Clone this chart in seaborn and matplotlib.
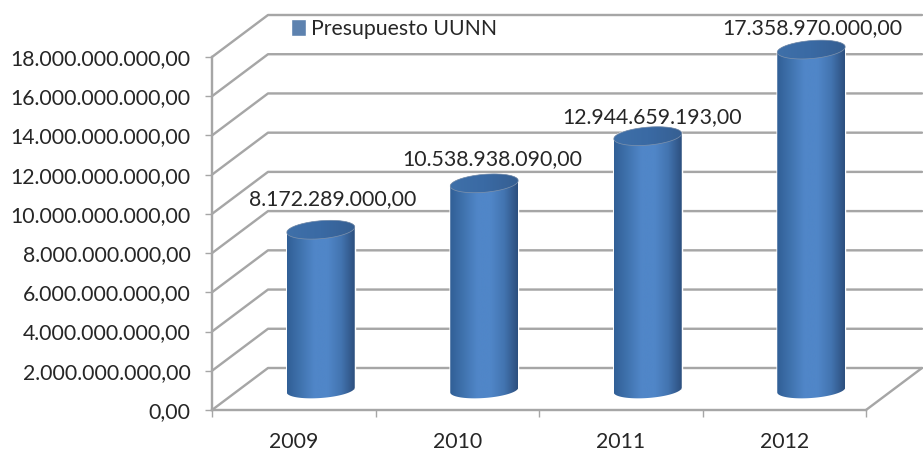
import numpy as np
import pandas as pd
import seaborn as sns
import matplotlib.pyplot as plt
from matplotlib.colors import LinearSegmentedColormap
from matplotlib.lines import Line2D
from matplotlib.patches import Polygon
from matplotlib.ticker import FuncFormatter
from matplotlib.transforms import Affine2D, IdentityTransform

years = ['2009', '2010', '2011', '2012']
budget = [8172289000, 10538938090, 12944659193, 17358970000]
series_name = 'Presupuesto UUNN'
y_ticks = [0, 2e9, 4e9, 6e9, 8e9, 10e9, 12e9, 14e9, 16e9, 18e9]

GRID = '#a6a6a6'
TEXT = '#262626'
FONT_SIZE = 15.3
DEPTH_X, DEPTH_Y = 56, 42
BAR_X, BAR_Y = 27, 20


def es_number(v, pos=None):
    return f'{v:,.2f}'.replace(',', '#').replace('.', ',').replace('#', '.')


def pts(px):
    return px * 0.72


def ellipse(cx, cy, a, b, tilt, t):
    x = cx + a * np.cos(t)
    y = cy + b * np.sin(t) + tilt * a * np.cos(t)
    return np.column_stack([x, y])


sns.set_style('white')
plt.rcParams['font.family'] = ['Lato', 'DejaVu Sans']

fig = plt.figure(figsize=(9.23, 4.5), dpi=100)
ax = fig.add_axes([212 / 923, 40 / 450, 654 / 923, 353 / 450])
ax.patch.set_alpha(0)

df = pd.DataFrame({'year': years, 'budget': budget})
sns.barplot(data=df, x='year', y='budget', color='#4f81bd', width=68 / 163.5,
            label=series_name, ax=ax, zorder=3)
ax.set_xlim(-0.5, 3.5)
ax.set_ylim(0, 18e9)
ax.set_xlabel('')
ax.set_ylabel('')
ax.set_yticks(y_ticks)
ax.yaxis.set_major_formatter(FuncFormatter(es_number))
ax.set_xticks([-0.5, 0.5, 1.5, 2.5, 3.5], minor=True)
ax.tick_params(axis='y', left=True, length=5, width=1, color=GRID, pad=10.5,
               labelsize=FONT_SIZE, labelcolor=TEXT)
ax.tick_params(axis='x', which='major', bottom=False, length=0, pad=15.5, labelsize=FONT_SIZE,
               labelcolor=TEXT)
ax.tick_params(axis='x', which='minor', bottom=True, length=5, width=1, color=GRID)
sns.despine(ax=ax, top=True, right=True)
for side in ['left', 'bottom']:
    ax.spines[side].set_color(GRID)
    ax.spines[side].set_linewidth(pts(2.4))

fig.canvas.draw()

# the walls and floor of the fake 3d box, in display pixels
x0, _ = ax.transData.transform((-0.5, 0))
x1, _ = ax.transData.transform((3.5, 0))
for v in y_ticks:
    _, y = ax.transData.transform((-0.5, v))
    xs = [x0, x0 + DEPTH_X, x1 + DEPTH_X]
    ys = [y, y + DEPTH_Y, y + DEPTH_Y]
    ax.add_line(Line2D(xs, ys, color=GRID, lw=pts(2.4), transform=IdentityTransform(),
                       clip_on=False, zorder=1))
_, y = ax.transData.transform((3.5, 0))
ax.add_line(Line2D([x1, x1 + DEPTH_X], [y, y + DEPTH_Y], color=GRID, lw=pts(2.4),
                   transform=IdentityTransform(), clip_on=False, zorder=1))

# overlay in display pixels for the cylinder shading
top = fig.add_axes([0, 0, 1, 1], zorder=5)
top.set_xlim(0, 923)
top.set_ylim(0, 450)
top.axis('off')

side_cmap = LinearSegmentedColormap.from_list('side', ['#315f96', '#4073ae', '#5086c8', '#5086c8',
                                                       '#4374b0', '#2c4f7e'])
cap_cmap = LinearSegmentedColormap.from_list('cap', ['#3f70a9', '#3a6aa4', '#365f92'])
grad = np.linspace(0, 1, 256).reshape(1, -1)
shift = Affine2D().translate(BAR_X, BAR_Y)

bars = [p for p in ax.patches]
for bar in bars:
    bar.set_transform(ax.transData + shift)
    (l, b), (r, t) = ax.transData.transform([(bar.get_x(), 0),
                                             (bar.get_x() + bar.get_width(), bar.get_height())])
    l, r, b, t = l + BAR_X, r + BAR_X, b + BAR_Y, t + BAR_Y
    cx = (l + r) / 2
    a = (r - l) / 2
    lower = ellipse(cx, b, a, 8, 0.07, np.linspace(np.pi, 2 * np.pi, 60))
    upper = ellipse(cx, t, a, 9, 0.08, np.linspace(0, np.pi, 60))
    body = Polygon(np.vstack([lower, upper]), closed=True, transform=top.transData, fc='none')
    top.add_patch(body)
    img = top.imshow(grad, extent=[l, r, b - 12, t + 14], aspect='auto', cmap=side_cmap, zorder=2)
    img.set_clip_path(body)
    cap = Polygon(ellipse(cx, t, a, 9, 0.08, np.linspace(0, 2 * np.pi, 80)), closed=True,
                  transform=top.transData, fc='none', ec='#7f93ad', lw=0.5, zorder=4)
    top.add_patch(cap)
    img = top.imshow(grad, extent=[l, r, t - 14, t + 14], aspect='auto', cmap=cap_cmap, zorder=3)
    img.set_clip_path(cap)
top.set_xlim(0, 923)
top.set_ylim(0, 450)

# data labels sit a little above each cylinder
label_shift = [(12, 31), (8, 24), (4, 19), (1, 21)]
for bar, v, (dx, dy) in zip(bars, budget, label_shift):
    cx = bar.get_x() + bar.get_width() / 2
    px, py = ax.transData.transform((cx, v))
    top.text(px + BAR_X + dx, py + BAR_Y + dy, es_number(v), ha='center', va='center',
             fontsize=FONT_SIZE, color=TEXT, zorder=6)

handles, labels = ax.get_legend_handles_labels()
ax.legend(handles, labels, loc='center left', bbox_to_anchor=(291 / 923, 1 - 29 / 450),
          bbox_transform=fig.transFigure, frameon=False, fontsize=FONT_SIZE, labelcolor=TEXT,
          handlelength=0.72, handleheight=0.85, handletextpad=0.24, borderpad=0, borderaxespad=0)

fig.savefig('out.png', dpi=100)
